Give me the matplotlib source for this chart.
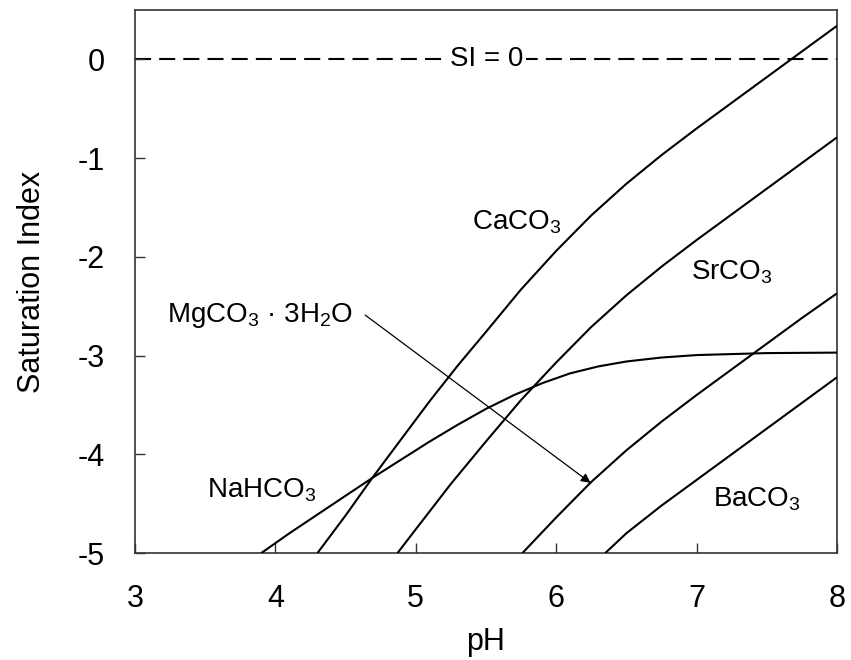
import matplotlib
matplotlib.use("Agg")
import matplotlib.pyplot as plt

# font setup (Arial-like)
plt.rcParams['font.family'] = ['Liberation Sans', 'DejaVu Sans']
plt.rcParams['mathtext.fontset'] = 'custom'
plt.rcParams['mathtext.rm'] = 'Liberation Sans'
plt.rcParams['mathtext.it'] = 'Liberation Sans:italic'
plt.rcParams['mathtext.default'] = 'regular'
plt.rcParams['axes.unicode_minus'] = False

# curves (pH, saturation index)
caco3_ph = [4.30, 4.50, 4.69, 4.90, 5.10, 5.30, 5.50, 5.75, 6.00, 6.25, 6.50, 6.75, 7.00, 7.25, 7.50, 7.75, 8.00]
caco3_si = [-5.00, -4.62, -4.24, -3.84, -3.46, -3.10, -2.76, -2.33, -1.94, -1.58, -1.26, -0.97, -0.70, -0.44, -0.18, 0.08, 0.34]

srco3_ph = [4.87, 5.00, 5.25, 5.50, 5.75, 6.00, 6.25, 6.50, 6.75, 7.00, 7.25, 7.50, 7.75, 8.00]
srco3_si = [-5.00, -4.76, -4.30, -3.87, -3.45, -3.07, -2.71, -2.39, -2.10, -1.83, -1.57, -1.31, -1.05, -0.79]

mgco3_ph = [5.76, 6.00, 6.25, 6.50, 6.75, 7.00, 7.25, 7.50, 7.75, 8.00]
mgco3_si = [-5.00, -4.64, -4.28, -3.96, -3.67, -3.40, -3.14, -2.88, -2.62, -2.37]

baco3_ph = [6.35, 6.50, 6.75, 7.00, 7.25, 7.50, 7.75, 8.00]
baco3_si = [-5.00, -4.80, -4.52, -4.26, -4.00, -3.74, -3.48, -3.22]

nahco3_ph = [3.90, 4.10, 4.30, 4.50, 4.69, 4.90, 5.10, 5.30, 5.50, 5.70, 5.90, 6.10, 6.30, 6.50, 6.75, 7.00, 7.50, 8.00]
nahco3_si = [-5.00, -4.80, -4.61, -4.42, -4.24, -4.05, -3.87, -3.70, -3.54, -3.40, -3.28, -3.18, -3.11, -3.06, -3.02, -2.995, -2.975, -2.97]

xticks = [3, 4, 5, 6, 7, 8]
yticks = [0, -1, -2, -3, -4, -5]

fig = plt.figure(figsize=(8.51, 6.6), dpi=100)
ax = fig.add_subplot(1, 1, 1)
fig.subplots_adjust(left=0.1586, right=0.9835, bottom=0.1621, top=0.9848)

# SI = 0 reference line
ax.axhline(0, color='black', lw=1.5, dashes=(7.7, 3.9), zorder=1)
ax.text(5.505, 0, 'SI = 0', fontsize=20, ha='center', va='center',
        bbox=dict(facecolor='white', edgecolor='none', pad=2), zorder=2)

# mineral curves
for xs, ys in [(caco3_ph, caco3_si), (srco3_ph, srco3_si), (mgco3_ph, mgco3_si),
               (baco3_ph, baco3_si), (nahco3_ph, nahco3_si)]:
    ax.plot(xs, ys, color='black', lw=1.5, solid_capstyle='butt', zorder=3)

# labels
ax.text(5.72, -1.65, 'CaCO$_3$', fontsize=20, ha='center', va='center')
ax.text(7.25, -2.16, 'SrCO$_3$', fontsize=20, ha='center', va='center')
ax.text(3.89, -2.59, 'MgCO$_3$ · 3H$_2$O', fontsize=20, ha='center', va='center')
ax.text(3.90, -4.36, 'NaHCO$_3$', fontsize=20, ha='center', va='center')
ax.text(7.43, -4.46, 'BaCO$_3$', fontsize=20, ha='center', va='center')

# arrow from the MgCO3 label to its curve
ax.annotate('', xy=(6.245, -4.29), xytext=(4.64, -2.59),
            arrowprops=dict(arrowstyle='-|>', color='black', lw=0.9,
                            mutation_scale=14, shrinkA=0, shrinkB=0))

ax.set_xlim(3, 8)
ax.set_ylim(-5, 0.5)
ax.set_xticks(xticks)
ax.set_yticks(yticks)
ax.set_xticklabels([str(v) for v in xticks])
ax.set_yticklabels([str(v) for v in yticks])
ax.tick_params(direction='in', length=7, width=1, labelsize=22, pad=22,
               top=False, right=False, colors='#333333', labelcolor='black')
for sp in ax.spines.values():
    sp.set_color('#333333')
    sp.set_linewidth(1.2)

ax.set_xlabel('pH', fontsize=22, labelpad=10)
ax.set_ylabel('Saturation Index', fontsize=22, labelpad=22)

fig.savefig('out.png', dpi=100)
